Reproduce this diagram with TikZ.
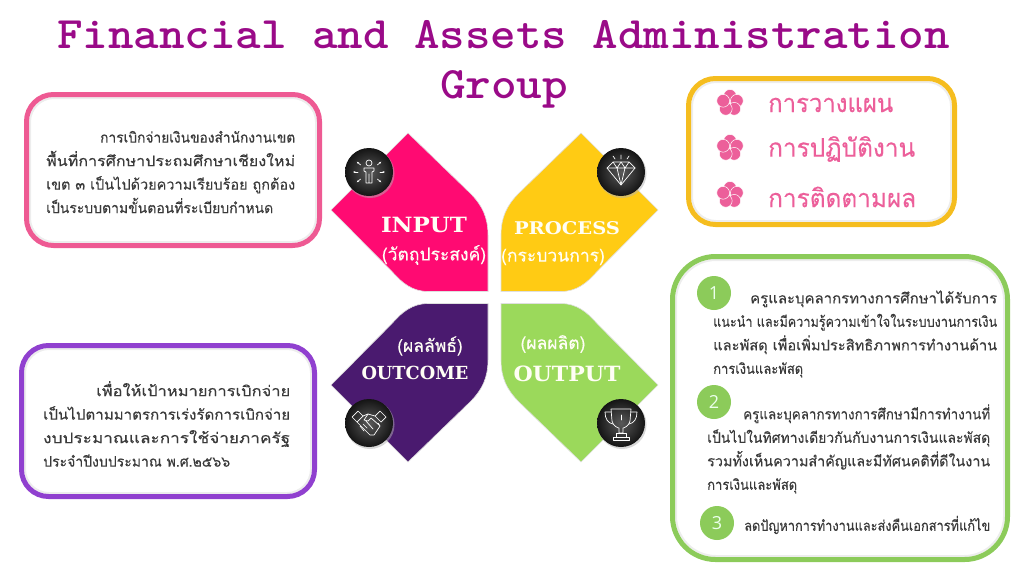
\documentclass[tikz,border=0pt]{standalone}
\usepackage{graphicx}
\usepackage{fontspec}
\usetikzlibrary{arrows.meta}
\setmainfont{Liberation Serif}
\newfontfamily\thaifont[Script=Thai, FakeBold=0.3]{Loma}
\newfontfamily\slabfont{DejaVu Serif}
\newfontfamily\numfont{Open Sans}
\definecolor{titlepurple}{HTML}{9A0A88}
\definecolor{inputpink}{HTML}{FF0A72}
\definecolor{processyellow}{HTML}{FFCB14}
\definecolor{outcomepurple}{HTML}{4A1A6F}
\definecolor{outputgreen}{HTML}{9BD95B}
\definecolor{boxpink}{HTML}{EE5A93}
\definecolor{boxviolet}{HTML}{9040CF}
\definecolor{boxyellow}{HTML}{F5BD1F}
\definecolor{boxgreen}{HTML}{8CCB5A}
\definecolor{flowerpink}{HTML}{EC5F9A}
\definecolor{bodygray}{HTML}{3A3A3A}
\newcommand{\fitline}[2]{\resizebox{#1pt}{\height}{#2}}
\tikzset{
    infobox/.style={line width=5pt, rounded corners=#1},
    innerglow/.style={gray!14, line width=2pt, rounded corners=#1},
    titletext/.style={anchor=base, inner sep=0pt, text=titlepurple, font=\ttfamily\bfseries\addfontfeatures{FakeBold=1}\fontsize{45}{45}\selectfont},
    bodytext/.style={anchor=west, inner sep=0pt, align=left, text=bodygray, font=\thaifont\fontsize{14.5}{23.5}\selectfont},
    slabtext/.style={text=white!96!yellow, inner sep=0pt, font=\slabfont\bfseries\fontsize{#1}{#1}\selectfont},
    thailabel/.style={text=white!96!yellow, inner sep=0pt, font=\thaifont\fontsize{17.5}{20}\selectfont},
    planitem/.style={anchor=west, inner sep=0pt, text=flowerpink, font=\thaifont\fontsize{25.5}{28}\selectfont},
    numdot/.style={circle, fill=boxgreen, minimum size=34pt, inner sep=0pt, text=white!92!green, font=\numfont\fontsize{18}{18}\selectfont},
    iconline/.style={white, line width=0.7pt, line join=round, line cap=round},
    flower/.pic={
        \foreach \a in {-90,-18,54,126,198}
            \fill[flowerpink, draw=white, line width=0.5pt] (\a:7.2) circle (6.4);
    }
}
\begin{document}
\begin{tikzpicture}[x=1pt, y=-1pt]
    \useasboundingbox (0,0) rectangle (1024,576);

    % title
    \node[titletext] (title1) at (503.5,48) {\fitline{893}{Financial and Assets Administration}};
    \node[titletext] (title2) at (504,98) {\fitline{128}{Group}};

    % four petals
    \foreach \sx/\sy/\col in {1/1/inputpink, -1/1/processyellow, 1/-1/outcomepurple, -1/-1/outputgreen}{
        \begin{scope}[shift={(494.5,297.5)}, xscale=\sx, yscale=\sy]
            \fill[\col, draw=gray!25, line width=0.6pt] (-86.5,-164.5) -- (-24.5,-104.5)
                .. controls (-12,-92) and (-6.5,-80) .. (-6.5,-62)
                -- (-6.5,-6) -- (-66,-6)
                .. controls (-82,-6) and (-92,-14) .. (-102.5,-26)
                -- (-163.5,-87.5) -- cycle;
        \end{scope}
    }

    \node[slabtext=21] (input) at (424,225) {\fitline{86}{INPUT}};
    \node[thailabel] (inputth) at (434,255) {(วัตถุประสงค์)};
    \node[slabtext=17.5] (process) at (567,228) {\fitline{106}{PROCESS}};
    \node[thailabel] (processth) at (553,257) {(กระบวนการ)};
    \node[thailabel] (outcometh) at (430,346) {(ผลลัพธ์)};
    \node[slabtext=18] (outcome) at (415,373) {\fitline{107}{OUTCOME}};
    \node[thailabel] (outputth) at (553,344) {(ผลผลิต)};
    \node[slabtext=21] (output) at (567,374) {\fitline{107}{OUTPUT}};

    % icon discs
    \foreach \cx/\cy in {369/172, 621/172, 369/423, 621/423}{
        \fill[black!30, opacity=0.5] (\cx+1,\cy+1.5) circle (24.5);
        \shade[inner color=black!65, outer color=black!92] (\cx,\cy) circle (24);
    }

    % person
    \begin{scope}[shift={(369,172)}]
        \draw[iconline] (0,-9) circle (3);
        \draw[iconline] (-3,11) -- (-3,0) -- (-5,-1) -- (-5,-4) -- (5,-4) -- (5,-1) -- (3,0) -- (3,11) -- (0,11) -- (0,2) -- (0,11) -- cycle;
        \foreach \a in {0,180,40,140,-40,-140}
            \draw[iconline, -{Stealth[length=2.5pt]}] (\a:11) -- (\a:16);
    \end{scope}

    % diamond
    \begin{scope}[shift={(621,172)}]
        \draw[iconline] (-14,-4) -- (-8,-10) -- (8,-10) -- (14,-4) -- (0,13) -- cycle;
        \draw[iconline] (-14,-4) -- (14,-4) (-8,-10) -- (-4,-4) -- (0,-10) -- (4,-4) -- (8,-10) (-4,-4) -- (0,13) -- (4,-4);
        \draw[iconline] (0,-13) -- (0,-17) (-6,-13) -- (-8,-16) (6,-13) -- (8,-16);
    \end{scope}

    % handshake
    \begin{scope}[shift={(369,423)}]
        \draw[iconline] (-17,-6) -- (-11,-12) -- (-6,-7) -- (-12,-1) -- cycle;
        \draw[iconline] (17,-6) -- (11,-12) -- (6,-7) -- (12,-1) -- cycle;
        \draw[iconline] (-12,-1) -- (1,12) -- (5,12) -- (11,3) -- (9,0) (-6,-7) -- (-1,-9) -- (6,-7);
        \draw[iconline] (-1,-9) -- (-5,-3) -- (-1,-2) -- (2,-5) -- (10,2);
        \draw[iconline] (-6,1) -- (-2,5) (-3,-2) -- (4,6) (-9,3) -- (-5,8);
    \end{scope}

    % trophy
    \begin{scope}[shift={(621,423)}]
        \draw[iconline] (-10,-14) -- (10,-14) -- (9,-2) .. controls (8,3) and (3,5) .. (2,5) -- (2,10) -- (-2,10) -- (-2,5) .. controls (-3,5) and (-8,3) .. (-9,-2) -- cycle;
        \draw[iconline] (-10,-11) -- (-16,-11) .. controls (-16,-4) and (-13,0) .. (-8,1);
        \draw[iconline] (10,-11) -- (16,-11) .. controls (16,-4) and (13,0) .. (8,1);
        \draw[iconline] (-5,10) rectangle (5,14) (-8,14) rectangle (8,17);
        \draw[iconline] (0,-8) -- (0,-3);
    \end{scope}

    % left boxes
    \draw[innerglow=24] (30,98) rectangle (316,242);
    \draw[boxpink, infobox=27] (26.5,94.5) rectangle (319.5,245.5);
    \node[bodytext] (goaltext) at (46,172) {\hspace*{54pt}\fitline{195}{การเบิกจ่ายเงินของสำนักงานเขต}\\
        \fitline{249}{พื้นที่การศึกษาประถมศึกษาเชียงใหม่}\\
        \fitline{249}{เขต ๓ เป็นไปด้วยความเรียบร้อย ถูกต้อง}\\
        \fitline{227}{เป็นระบบตามขั้นตอนที่ระเบียบกำหนด}};

    \draw[innerglow=24] (25,349) rectangle (311,493);
    \draw[boxviolet, infobox=27] (21.5,345.5) rectangle (314.5,496.5);
    \node[bodytext] (aimtext) at (43,424) {\hspace*{53pt}\fitline{194}{เพื่อให้เป้าหมายการเบิกจ่าย}\\
        \fitline{247}{เป็นไปตามมาตรการเร่งรัดการเบิกจ่าย}\\
        \fitline{247}{งบประมาณและการใช้จ่ายภาครัฐ}\\
        \fitline{187}{ประจำปีงบประมาณ พ.ศ.๒๕๖๖}};

    % plan box
    \draw[innerglow=24] (692,82) rectangle (951,221);
    \draw[boxyellow, infobox=27] (688.5,78.5) rectangle (954.5,224.5);
    \pic (flower1) at (730,103) {flower};
    \pic (flower2) at (730,148) {flower};
    \pic (flower3) at (730,195) {flower};
    \node[planitem] (plan1) at (768,105) {\fitline{125}{การวางแผน}};
    \node[planitem] (plan2) at (768,149) {\fitline{147}{การปฏิบัติงาน}};
    \node[planitem] (plan3) at (768,197) {\fitline{148}{การติดตามผล}};

    % result box
    \draw[innerglow=40] (676,260) rectangle (1004,556);
    \draw[boxgreen, infobox=43] (672.5,256.5) rectangle (1007.5,559.5);
    \node[numdot] (num1) at (714,293) {1};
    \node[numdot] (num2) at (714,402) {2};
    \node[numdot] (num3) at (717,523) {3};
    \node[bodytext] (result1) at (713,334) {\hspace*{37pt}\fitline{247}{ครูและบุคลากรทางการศึกษาได้รับการ}\\
        \fitline{284}{แนะนำ และมีความรู้ความเข้าใจในระบบงานการเงิน}\\
        \fitline{284}{และพัสดุ เพื่อเพิ่มประสิทธิภาพการทำงานด้าน}\\
        \fitline{90}{การเงินและพัสดุ}};
    \node[bodytext] (result2) at (707,449) {\hspace*{36pt}\fitline{247}{ครูและบุคลากรทางการศึกษามีการทำงานที่}\\
        \fitline{283}{เป็นไปในทิศทางเดียวกันกับงานการเงินและพัสดุ}\\
        \fitline{283}{รวมทั้งเห็นความสำคัญและมีทัศนคติที่ดีในงาน}\\
        \fitline{90}{การเงินและพัสดุ}};
    \node[bodytext] (result3) at (744,525) {\fitline{246}{ลดปัญหาการทำงานและส่งคืนเอกสารที่แก้ไข}};
\end{tikzpicture}
\end{document}
